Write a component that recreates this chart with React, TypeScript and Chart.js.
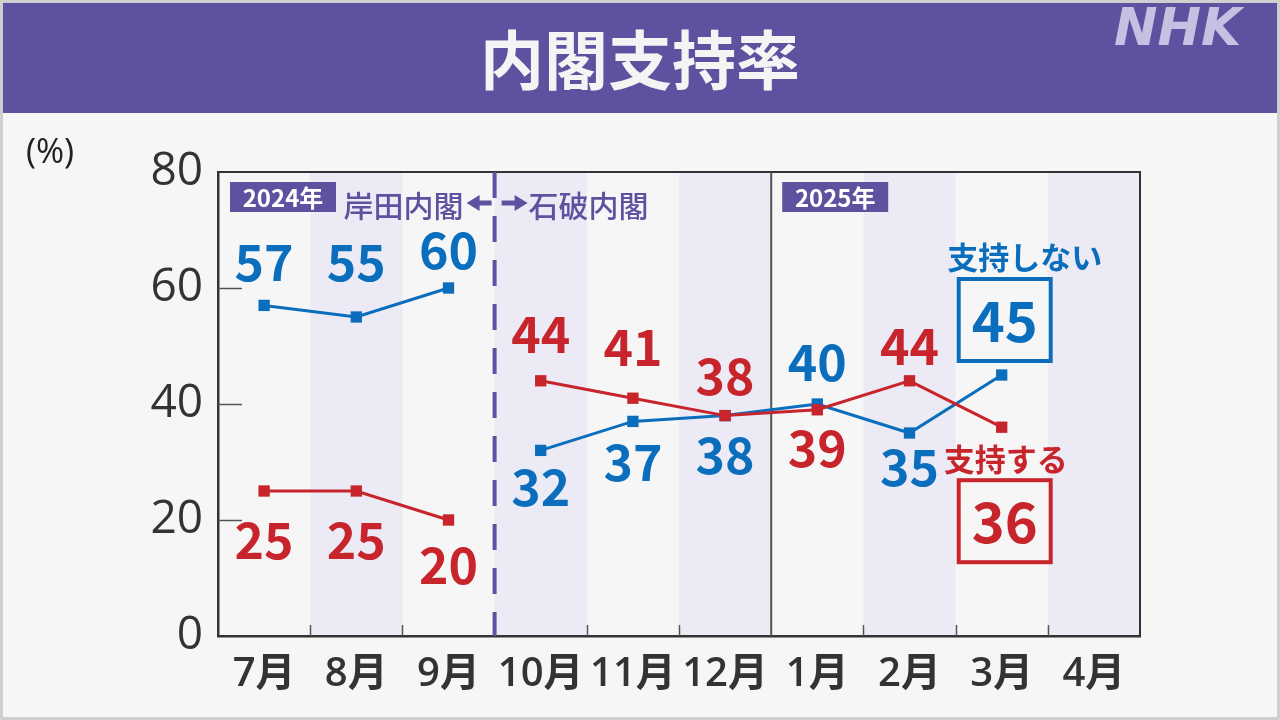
import React, { useEffect, useRef } from "react";
import { Chart, registerables } from "chart.js";

Chart.register(...registerables);

const months = ["7月", "8月", "9月", "10月", "11月", "12月", "1月", "2月", "3月", "4月"];
const supportValues = [25, 25, 20, 44, 41, 38, 39, 44, 36, null];
const notSupportValues = [57, 55, 60, 32, 37, 38, 40, 35, 45, null];
const yTicks = [0, 20, 40, 60, 80];

// label placement (pixel offsets of label centre from its point)
const supportLabelDy = [49, 49, 45, -47, -51, -40, 38, -35, 0];
const notSupportLabelDy = [-43, -55, -38, 37, 41, 39, -42, 34, 0];

const FONT = '"Noto Sans CJK JP", "Noto Sans", sans-serif';
const AXIS_FONT = '"Open Sans", "Noto Sans CJK JP", sans-serif';
const PURPLE = "#5E52A0";
const BLUE = "#0A6EBD";
const RED = "#C8242C";
const BAND = "#ECEBF5";
const BG = "#F6F6F6";
const DARK = "#333333";

function arrow(ctx: CanvasRenderingContext2D, x1: number, x2: number, y: number) {
  const dir = x2 > x1 ? 1 : -1;
  ctx.save();
  ctx.strokeStyle = PURPLE;
  ctx.fillStyle = PURPLE;
  ctx.lineWidth = 5;
  ctx.beginPath();
  ctx.moveTo(x1, y);
  ctx.lineTo(x2 - dir * 10, y);
  ctx.stroke();
  ctx.beginPath();
  ctx.moveTo(x2, y);
  ctx.lineTo(x2 - dir * 13, y - 8);
  ctx.lineTo(x2 - dir * 13, y + 8);
  ctx.closePath();
  ctx.fill();
  ctx.restore();
}

function yearBox(ctx: CanvasRenderingContext2D, x: number, y: number, text: string) {
  ctx.save();
  ctx.fillStyle = PURPLE;
  ctx.fillRect(x, y, 106, 30);
  ctx.fillStyle = "#FFFFFF";
  ctx.font = `bold 24px ${FONT}`;
  ctx.textAlign = "center";
  ctx.textBaseline = "middle";
  ctx.fillText(text, x + 53, y + 16);
  ctx.restore();
}

const decorPlugin = {
  id: "decor",
  beforeDraw(chart: any) {
    const { ctx, chartArea, scales } = chart;
    const W = chart.width;
    const H = chart.height;
    ctx.save();
    ctx.fillStyle = BG;
    ctx.fillRect(0, 0, W, H);
    // header
    ctx.fillStyle = PURPLE;
    ctx.fillRect(2, 2, W - 4, 111);
    ctx.strokeStyle = "#CFCFCF";
    ctx.lineWidth = 3;
    ctx.strokeRect(1.5, 1.5, W - 3, H - 3);
    ctx.fillStyle = "#F4F4F4";
    ctx.font = `bold 64px ${FONT}`;
    ctx.textAlign = "center";
    ctx.textBaseline = "middle";
    ctx.fillText("内閣支持率", 640, 60);
    ctx.fillStyle = "#C6C1E3";
    ctx.font = `italic bold 52px "DejaVu Sans", sans-serif`;
    ctx.textAlign = "left";
    ctx.fillText("NHK", 1114, 31);
    // (%)
    ctx.fillStyle = "#222222";
    ctx.font = `500 34px ${AXIS_FONT}`;
    ctx.textAlign = "center";
    ctx.fillText("(%)", 50, 153);
    // bands
    const x = scales.x;
    const half = (x.getPixelForValue(1) - x.getPixelForValue(0)) / 2;
    ctx.fillStyle = BAND;
    months.forEach((_, i) => {
      if (i % 2 === 1) {
        const cx = x.getPixelForValue(i);
        ctx.fillRect(cx - half, chartArea.top, half * 2, chartArea.bottom - chartArea.top);
      }
    });
    ctx.restore();
  },
  beforeDatasetsDraw(chart: any) {
    const { ctx, chartArea, scales } = chart;
    const x = scales.x;
    const y = scales.y;
    const half = (x.getPixelForValue(1) - x.getPixelForValue(0)) / 2;
    ctx.save();
    // frame top / right
    ctx.strokeStyle = DARK;
    ctx.lineWidth = 2;
    ctx.beginPath();
    ctx.moveTo(chartArea.left, chartArea.top);
    ctx.lineTo(chartArea.right, chartArea.top);
    ctx.lineTo(chartArea.right, chartArea.bottom);
    ctx.stroke();
    // y inner ticks
    ctx.strokeStyle = "#555555";
    ctx.lineWidth = 1.5;
    yTicks.forEach((v) => {
      if (v === 0 || v === 80) return;
      const py = Math.round(y.getPixelForValue(v)) + 0.5;
      ctx.beginPath();
      ctx.moveTo(chartArea.left, py);
      ctx.lineTo(chartArea.left + 24, py);
      ctx.stroke();
    });
    // x inner ticks at boundaries
    months.forEach((_, i) => {
      if (i === 0 || i === 3 || i === 6) return;
      const bx = Math.round(x.getPixelForValue(i) - half) + 0.5;
      ctx.beginPath();
      ctx.moveTo(bx, chartArea.bottom);
      ctx.lineTo(bx, chartArea.bottom - 11);
      ctx.stroke();
    });
    // cabinet change dashed line
    const dx = x.getPixelForValue(3) - half;
    ctx.strokeStyle = PURPLE;
    ctx.lineWidth = 4;
    ctx.setLineDash([26, 18]);
    ctx.beginPath();
    ctx.moveTo(dx, chartArea.top);
    ctx.lineTo(dx, chartArea.bottom);
    ctx.stroke();
    ctx.setLineDash([]);
    // year boundary line
    const sx = x.getPixelForValue(6) - half;
    ctx.strokeStyle = "#555555";
    ctx.lineWidth = 2;
    ctx.beginPath();
    ctx.moveTo(sx, chartArea.top);
    ctx.lineTo(sx, chartArea.bottom);
    ctx.stroke();
    // year boxes
    yearBox(ctx, chartArea.left + 12, chartArea.top + 10, "2024年");
    yearBox(ctx, sx + 11, chartArea.top + 10, "2025年");
    // cabinet labels
    ctx.fillStyle = PURPLE;
    ctx.font = `500 30px ${FONT}`;
    ctx.textBaseline = "middle";
    ctx.textAlign = "right";
    ctx.fillText("岸田内閣", dx - 31, chartArea.top + 34);
    ctx.textAlign = "left";
    ctx.fillText("石破内閣", dx + 34, chartArea.top + 34);
    arrow(ctx, dx - 3, dx - 28, chartArea.top + 31);
    arrow(ctx, dx + 7, dx + 33, chartArea.top + 31);
    ctx.restore();
  },
  afterDatasetsDraw(chart: any) {
    const { ctx, scales } = chart;
    const x = scales.x;
    const y = scales.y;
    ctx.save();
    ctx.textAlign = "center";
    ctx.textBaseline = "middle";
    ctx.font = `bold 50px ${FONT}`;
    const last = 8;
    notSupportValues.forEach((v, i) => {
      if (v === null || i === last) return;
      ctx.fillStyle = BLUE;
      ctx.fillText(String(v), x.getPixelForValue(i), y.getPixelForValue(v) + notSupportLabelDy[i]);
    });
    supportValues.forEach((v, i) => {
      if (v === null || i === last) return;
      ctx.fillStyle = RED;
      ctx.fillText(String(v), x.getPixelForValue(i), y.getPixelForValue(v) + supportLabelDy[i]);
    });
    // final boxed values
    const px = x.getPixelForValue(last);
    const by = y.getPixelForValue(notSupportValues[last] as number);
    const ry = y.getPixelForValue(supportValues[last] as number);
    const drawBox = (cx: number, cy: number, color: string, value: number) => {
      ctx.fillStyle = BG;
      ctx.fillRect(cx - 46, cy - 41, 92, 82);
      ctx.strokeStyle = color;
      ctx.lineWidth = 4;
      ctx.strokeRect(cx - 46, cy - 41, 92, 82);
      ctx.fillStyle = color;
      ctx.font = `bold 56px ${FONT}`;
      ctx.fillText(String(value), cx, cy + 1);
    };
    drawBox(px + 3, by - 55, BLUE, notSupportValues[last] as number);
    drawBox(px + 3, ry + 94, RED, supportValues[last] as number);
    ctx.font = `bold 31px ${FONT}`;
    ctx.fillStyle = BLUE;
    ctx.fillText("支持しない", px + 23, by - 118);
    ctx.fillStyle = RED;
    ctx.fillText("支持する", px + 4, ry + 32);
    ctx.restore();
  },
};

export default function App() {
  const ref = useRef<HTMLCanvasElement>(null);
  useEffect(() => {
    if (!ref.current) return;
    const gapSegment = (color: string) => ({
      borderColor: (c: any) => (c.p0DataIndex === 2 ? "rgba(0,0,0,0)" : color),
    });
    const chart = new Chart(ref.current, {
      type: "line",
      data: {
        labels: months,
        datasets: [
          {
            label: "支持する",
            data: supportValues,
            borderColor: RED,
            backgroundColor: RED,
            borderWidth: 3,
            pointStyle: "rect",
            pointRadius: 8,
            pointBorderWidth: 0,
            pointBackgroundColor: RED,
            segment: gapSegment(RED),
            spanGaps: false,
          },
          {
            label: "支持しない",
            data: notSupportValues,
            borderColor: BLUE,
            backgroundColor: BLUE,
            borderWidth: 3,
            pointStyle: "rect",
            pointRadius: 8,
            pointBorderWidth: 0,
            pointBackgroundColor: BLUE,
            segment: gapSegment(BLUE),
            spanGaps: false,
          },
        ],
      },
      options: {
        responsive: false,
        animation: false,
        devicePixelRatio: 1,
        layout: { padding: { left: 0, top: 172, right: 140, bottom: 0 } },
        plugins: { legend: { display: false }, tooltip: { enabled: false } },
        scales: {
          x: {
            offset: true,
            grid: { display: false, drawOnChartArea: false, drawTicks: false },
            border: { display: true, color: DARK, width: 2.5 },
            ticks: {
              color: DARK,
              font: { family: AXIS_FONT, size: 40, weight: 600 } as any,
              padding: 15,
              maxRotation: 0,
              autoSkip: false,
            },
            afterFit: (s: any) => {
              s.height = 84;
            },
          },
          y: {
            min: 0,
            max: 80,
            afterBuildTicks: (s: any) => {
              s.ticks = yTicks.map((v) => ({ value: v }));
            },
            grid: { display: false, drawOnChartArea: false, drawTicks: false },
            border: { display: true, color: DARK, width: 2.5 },
            ticks: {
              color: DARK,
              font: { family: AXIS_FONT, size: 46, weight: 500 } as any,
              padding: 15,
            },
            afterFit: (s: any) => {
              s.width = 218;
            },
          },
        },
      },
      plugins: [decorPlugin],
    });
    return () => chart.destroy();
  }, []);
  return (
    <div style={{ position: "fixed", left: 0, top: 0, width: 1280, height: 720 }}>
      <canvas ref={ref} width={1280} height={720} />
    </div>
  );
}
